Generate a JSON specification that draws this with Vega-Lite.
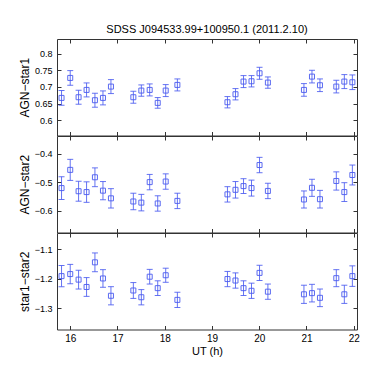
{
  "$schema": "https://vega.github.io/schema/vega-lite/v6.json",
  "padding": {"left": 17, "top": 24, "right": 5, "bottom": 5},
  "spacing": 0,
  "bounds": "flush",
  "title": {"text": "SDSS J094533.99+100950.1 (2011.2.10)", "fontSize": 11, "fontWeight": "normal", "font": "Liberation Sans", "color": "#000", "offset": 3, "anchor": "middle", "frame": "group"},
  "config": {
    "font": "Liberation Sans",
    "view": {"stroke": "#333", "strokeWidth": 1},
    "axis": {"grid": false, "domain": false, "tickColor": "#333", "labelColor": "#000", "titleColor": "#000", "labelFontSize": 9, "titleFontSize": 12, "titleFontWeight": "normal", "labelFont": "Liberation Sans", "titleFont": "Liberation Sans"}
  },
  "datasets": {
    "a": [
      {"t": 15.816, "v": 0.667, "e": 0.022}, {"t": 16.0, "v": 0.727, "e": 0.022}, {"t": 16.177, "v": 0.669, "e": 0.021}, {"t": 16.346, "v": 0.691, "e": 0.021}, {"t": 16.523, "v": 0.66, "e": 0.021}, {"t": 16.693, "v": 0.667, "e": 0.021}, {"t": 16.862, "v": 0.701, "e": 0.021},
      {"t": 17.336, "v": 0.669, "e": 0.018}, {"t": 17.505, "v": 0.689, "e": 0.017}, {"t": 17.682, "v": 0.691, "e": 0.018}, {"t": 17.852, "v": 0.652, "e": 0.016}, {"t": 18.021, "v": 0.689, "e": 0.018}, {"t": 18.268, "v": 0.706, "e": 0.018},
      {"t": 19.328, "v": 0.654, "e": 0.017}, {"t": 19.498, "v": 0.678, "e": 0.017}, {"t": 19.668, "v": 0.716, "e": 0.018}, {"t": 19.837, "v": 0.717, "e": 0.017}, {"t": 20.007, "v": 0.741, "e": 0.018}, {"t": 20.184, "v": 0.713, "e": 0.017},
      {"t": 20.947, "v": 0.691, "e": 0.019}, {"t": 21.117, "v": 0.731, "e": 0.019}, {"t": 21.286, "v": 0.705, "e": 0.019}, {"t": 21.632, "v": 0.701, "e": 0.019}, {"t": 21.802, "v": 0.716, "e": 0.021}, {"t": 21.972, "v": 0.714, "e": 0.022}
    ],
    "b": [
      {"t": 15.816, "v": -0.52, "e": 0.04}, {"t": 16.0, "v": -0.456, "e": 0.037}, {"t": 16.177, "v": -0.531, "e": 0.035}, {"t": 16.346, "v": -0.534, "e": 0.036}, {"t": 16.523, "v": -0.482, "e": 0.033}, {"t": 16.693, "v": -0.529, "e": 0.032}, {"t": 16.862, "v": -0.556, "e": 0.034},
      {"t": 17.336, "v": -0.567, "e": 0.029}, {"t": 17.505, "v": -0.571, "e": 0.029}, {"t": 17.682, "v": -0.499, "e": 0.027}, {"t": 17.852, "v": -0.574, "e": 0.027}, {"t": 18.021, "v": -0.497, "e": 0.027}, {"t": 18.268, "v": -0.565, "e": 0.027},
      {"t": 19.328, "v": -0.542, "e": 0.027}, {"t": 19.498, "v": -0.526, "e": 0.029}, {"t": 19.668, "v": -0.513, "e": 0.026}, {"t": 19.837, "v": -0.52, "e": 0.028}, {"t": 20.007, "v": -0.439, "e": 0.027}, {"t": 20.184, "v": -0.53, "e": 0.027},
      {"t": 20.947, "v": -0.56, "e": 0.03}, {"t": 21.117, "v": -0.519, "e": 0.03}, {"t": 21.286, "v": -0.559, "e": 0.031}, {"t": 21.632, "v": -0.495, "e": 0.032}, {"t": 21.802, "v": -0.534, "e": 0.033}, {"t": 21.972, "v": -0.474, "e": 0.035}
    ],
    "c": [
      {"t": 15.816, "v": -1.191, "e": 0.036}, {"t": 16.0, "v": -1.184, "e": 0.033}, {"t": 16.177, "v": -1.203, "e": 0.032}, {"t": 16.346, "v": -1.228, "e": 0.032}, {"t": 16.523, "v": -1.144, "e": 0.032}, {"t": 16.693, "v": -1.199, "e": 0.03}, {"t": 16.862, "v": -1.258, "e": 0.031},
      {"t": 17.336, "v": -1.24, "e": 0.027}, {"t": 17.505, "v": -1.263, "e": 0.026}, {"t": 17.682, "v": -1.193, "e": 0.025}, {"t": 17.852, "v": -1.232, "e": 0.025}, {"t": 18.021, "v": -1.188, "e": 0.024}, {"t": 18.268, "v": -1.272, "e": 0.026},
      {"t": 19.328, "v": -1.201, "e": 0.026}, {"t": 19.498, "v": -1.206, "e": 0.026}, {"t": 19.668, "v": -1.232, "e": 0.025}, {"t": 19.837, "v": -1.241, "e": 0.026}, {"t": 20.007, "v": -1.18, "e": 0.026}, {"t": 20.184, "v": -1.244, "e": 0.026},
      {"t": 20.947, "v": -1.253, "e": 0.031}, {"t": 21.117, "v": -1.249, "e": 0.03}, {"t": 21.286, "v": -1.265, "e": 0.03}, {"t": 21.632, "v": -1.198, "e": 0.029}, {"t": 21.802, "v": -1.253, "e": 0.031}, {"t": 21.972, "v": -1.191, "e": 0.035}
    ]
  },
  "vconcat": [
    {
      "width": 300, "height": 96.5,
      "data": {"name": "a"},
      "layer": [
        {"mark": {"type": "errorbar", "ticks": {"size": 6}, "thickness": 1, "color": "#4a5bf0", "opacity": 0.85},
         "encoding": {
           "x": {"field": "t", "type": "quantitative", "scale": {"domain": [15.72, 22.07], "nice": false, "zero": false}, "axis": {"orient": "bottom", "values": [16, 17, 18, 19, 20, 21, 22], "labels": false, "tickSize": -4, "title": null}},
           "y": {"field": "v", "type": "quantitative", "scale": {"domain": [0.554, 0.844], "nice": false, "zero": false}, "axis": {"orient": "left", "values": [0.6, 0.65, 0.7, 0.75, 0.8], "format": ".2~f", "tickSize": -4, "labelPadding": 9, "title": "AGN−star1", "titlePadding": 3}},
           "yError": {"field": "e"}
         }},
        {"mark": {"type": "point", "shape": "square", "filled": false, "size": 25, "strokeWidth": 1, "color": "#4a5bf0", "opacity": 0.9},
         "encoding": {
           "x": {"field": "t", "type": "quantitative", "scale": {"domain": [15.72, 22.07], "nice": false, "zero": false}, "axis": {"orient": "top", "values": [16, 17, 18, 19, 20, 21, 22], "labels": false, "tickSize": -4, "title": null}},
           "y": {"field": "v", "type": "quantitative", "scale": {"domain": [0.554, 0.844], "nice": false, "zero": false}, "axis": {"orient": "right", "values": [0.6, 0.65, 0.7, 0.75, 0.8], "labels": false, "tickSize": -4, "title": null}}
         }}
      ],
      "resolve": {"axis": {"x": "independent", "y": "independent"}}
    },
    {
      "width": 300, "height": 96.5,
      "data": {"name": "b"},
      "layer": [
        {"mark": {"type": "errorbar", "ticks": {"size": 6}, "thickness": 1, "color": "#4a5bf0", "opacity": 0.85},
         "encoding": {
           "x": {"field": "t", "type": "quantitative", "scale": {"domain": [15.72, 22.07], "nice": false, "zero": false}, "axis": {"orient": "bottom", "values": [16, 17, 18, 19, 20, 21, 22], "labels": false, "tickSize": -4, "title": null}},
           "y": {"field": "v", "type": "quantitative", "scale": {"domain": [-0.676, -0.337], "nice": false, "zero": false}, "axis": {"orient": "left", "values": [-0.6, -0.5, -0.4], "format": ".1f", "tickSize": -4, "labelPadding": 9, "title": "AGN−star2", "titlePadding": 3}},
           "yError": {"field": "e"}
         }},
        {"mark": {"type": "point", "shape": "square", "filled": false, "size": 25, "strokeWidth": 1, "color": "#4a5bf0", "opacity": 0.9},
         "encoding": {
           "x": {"field": "t", "type": "quantitative", "scale": {"domain": [15.72, 22.07], "nice": false, "zero": false}, "axis": {"orient": "top", "values": [16, 17, 18, 19, 20, 21, 22], "labels": false, "tickSize": -4, "title": null}},
           "y": {"field": "v", "type": "quantitative", "scale": {"domain": [-0.676, -0.337], "nice": false, "zero": false}, "axis": {"orient": "right", "values": [-0.6, -0.5, -0.4], "labels": false, "tickSize": -4, "title": null}}
         }}
      ],
      "resolve": {"axis": {"x": "independent", "y": "independent"}}
    },
    {
      "width": 300, "height": 96.5,
      "data": {"name": "c"},
      "layer": [
        {"mark": {"type": "errorbar", "ticks": {"size": 6}, "thickness": 1, "color": "#4a5bf0", "opacity": 0.85},
         "encoding": {
           "x": {"field": "t", "type": "quantitative", "scale": {"domain": [15.72, 22.07], "nice": false, "zero": false}, "axis": {"orient": "bottom", "values": [16, 17, 18, 19, 20, 21, 22], "format": "d", "labelFontSize": 10, "tickSize": -4, "labelPadding": 8, "title": "UT (h)", "titleFontSize": 11, "titlePadding": 2}},
           "y": {"field": "v", "type": "quantitative", "scale": {"domain": [-1.373, -1.044], "nice": false, "zero": false}, "axis": {"orient": "left", "values": [-1.3, -1.2, -1.1], "format": ".1f", "tickSize": -4, "labelPadding": 9, "title": "star1−star2", "titlePadding": 3}},
           "yError": {"field": "e"}
         }},
        {"mark": {"type": "point", "shape": "square", "filled": false, "size": 25, "strokeWidth": 1, "color": "#4a5bf0", "opacity": 0.9},
         "encoding": {
           "x": {"field": "t", "type": "quantitative", "scale": {"domain": [15.72, 22.07], "nice": false, "zero": false}, "axis": {"orient": "top", "values": [16, 17, 18, 19, 20, 21, 22], "labels": false, "tickSize": -4, "title": null}},
           "y": {"field": "v", "type": "quantitative", "scale": {"domain": [-1.373, -1.044], "nice": false, "zero": false}, "axis": {"orient": "right", "values": [-1.3, -1.2, -1.1], "labels": false, "tickSize": -4, "title": null}}
         }}
      ],
      "resolve": {"axis": {"x": "independent", "y": "independent"}}
    }
  ]
}
